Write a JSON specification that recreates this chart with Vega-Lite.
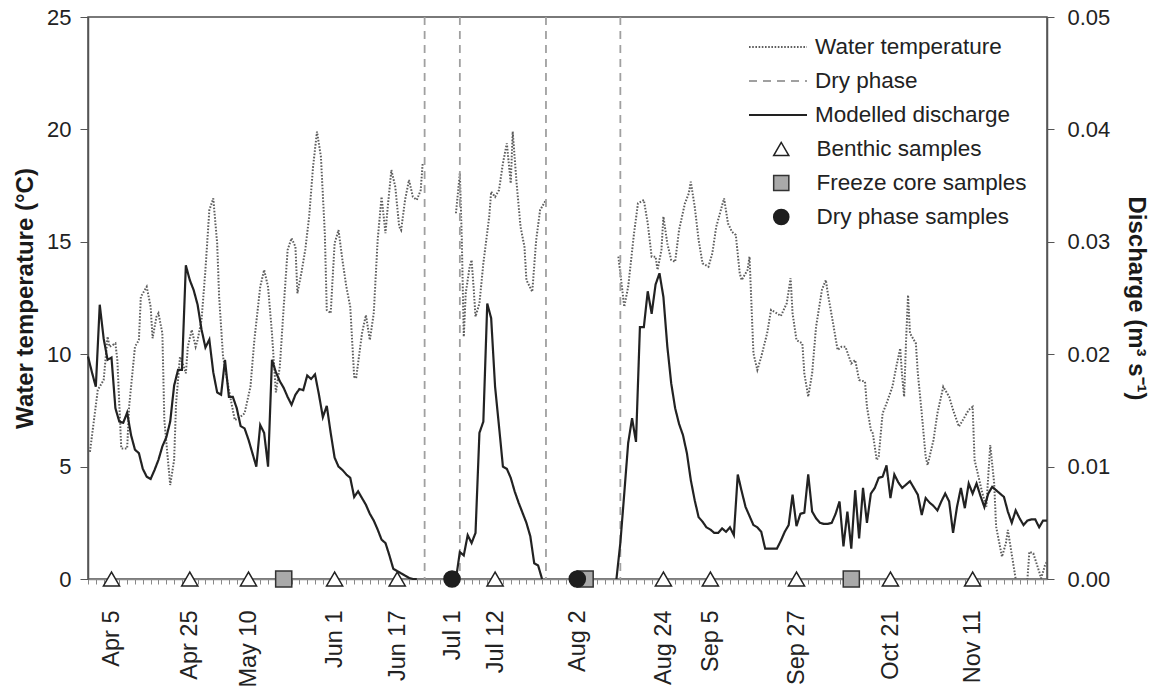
{
  "$schema": "https://vega.github.io/schema/vega-lite/v6.json",
  "width": 959,
  "height": 562,
  "autosize": {"type": "none"},
  "padding": {"left": 88, "top": 17, "right": 110, "bottom": 111},
  "background": "white",
  "config": {
    "font": "Liberation Sans",
    "view": {"stroke": "#4d4d4d", "strokeWidth": 1.5},
    "axis": {"grid": false, "labelFont": "Liberation Sans", "titleFont": "Liberation Sans", "labelFontSize": 22, "titleFontSize": 24, "labelColor": "#222222", "titleColor": "#1a1a1a", "titleFontWeight": "bold", "domainColor": "#555555", "tickColor": "#555555", "domainWidth": 1.5, "tickWidth": 1},
    "legend": {"labelFont": "Liberation Sans", "labelFontSize": 22.5, "labelColor": "#222222", "labelLimit": 400}
  },
  "datasets": {
    "temperature": [
      {"date":"2013-03-30T12:00Z","t":5.66,"seg":1,"series":"Water temperature"},
      {"date":"2013-04-01T12:00Z","t":8.41,"seg":1,"series":"Water temperature"},
      {"date":"2013-04-03","t":8.85,"seg":1,"series":"Water temperature"},
      {"date":"2013-04-04","t":10.78,"seg":1,"series":"Water temperature"},
      {"date":"2013-04-04T12:00Z","t":10.33,"seg":1,"series":"Water temperature"},
      {"date":"2013-04-06","t":10.48,"seg":1,"series":"Water temperature"},
      {"date":"2013-04-06T12:00Z","t":9.74,"seg":1,"series":"Water temperature"},
      {"date":"2013-04-07T12:00Z","t":5.81,"seg":1,"series":"Water temperature"},
      {"date":"2013-04-09","t":5.81,"seg":1,"series":"Water temperature"},
      {"date":"2013-04-09T12:00Z","t":7.66,"seg":1,"series":"Water temperature"},
      {"date":"2013-04-11","t":10.33,"seg":1,"series":"Water temperature"},
      {"date":"2013-04-12","t":10.63,"seg":1,"series":"Water temperature"},
      {"date":"2013-04-12T12:00Z","t":12.56,"seg":1,"series":"Water temperature"},
      {"date":"2013-04-14","t":13.0,"seg":1,"series":"Water temperature"},
      {"date":"2013-04-15","t":12.11,"seg":1,"series":"Water temperature"},
      {"date":"2013-04-15T12:00Z","t":10.71,"seg":1,"series":"Water temperature"},
      {"date":"2013-04-16T12:00Z","t":11.67,"seg":1,"series":"Water temperature"},
      {"date":"2013-04-17","t":11.82,"seg":1,"series":"Water temperature"},
      {"date":"2013-04-18","t":10.93,"seg":1,"series":"Water temperature"},
      {"date":"2013-04-18T12:00Z","t":7.07,"seg":1,"series":"Water temperature"},
      {"date":"2013-04-20","t":4.18,"seg":1,"series":"Water temperature"},
      {"date":"2013-04-21","t":5.29,"seg":1,"series":"Water temperature"},
      {"date":"2013-04-21T12:00Z","t":7.81,"seg":1,"series":"Water temperature"},
      {"date":"2013-04-22T12:00Z","t":9.89,"seg":1,"series":"Water temperature"},
      {"date":"2013-04-23T12:00Z","t":9.44,"seg":1,"series":"Water temperature"},
      {"date":"2013-04-24","t":9.15,"seg":1,"series":"Water temperature"},
      {"date":"2013-04-24T12:00Z","t":10.33,"seg":1,"series":"Water temperature"},
      {"date":"2013-04-25T12:00Z","t":11.08,"seg":1,"series":"Water temperature"},
      {"date":"2013-04-26T12:00Z","t":10.33,"seg":1,"series":"Water temperature"},
      {"date":"2013-04-27","t":10.63,"seg":1,"series":"Water temperature"},
      {"date":"2013-04-28","t":11.52,"seg":1,"series":"Water temperature"},
      {"date":"2013-04-29","t":13.75,"seg":1,"series":"Water temperature"},
      {"date":"2013-04-30","t":16.41,"seg":1,"series":"Water temperature"},
      {"date":"2013-05-01","t":16.93,"seg":1,"series":"Water temperature"},
      {"date":"2013-05-02","t":14.93,"seg":1,"series":"Water temperature"},
      {"date":"2013-05-02T12:00Z","t":12.56,"seg":1,"series":"Water temperature"},
      {"date":"2013-05-03T12:00Z","t":9.89,"seg":1,"series":"Water temperature"},
      {"date":"2013-05-05","t":8.41,"seg":1,"series":"Water temperature"},
      {"date":"2013-05-06T12:00Z","t":7.07,"seg":1,"series":"Water temperature"},
      {"date":"2013-05-08","t":7.22,"seg":1,"series":"Water temperature"},
      {"date":"2013-05-09","t":7.37,"seg":1,"series":"Water temperature"},
      {"date":"2013-05-10T12:00Z","t":8.55,"seg":1,"series":"Water temperature"},
      {"date":"2013-05-11T12:00Z","t":10.63,"seg":1,"series":"Water temperature"},
      {"date":"2013-05-13","t":13.0,"seg":1,"series":"Water temperature"},
      {"date":"2013-05-14","t":13.75,"seg":1,"series":"Water temperature"},
      {"date":"2013-05-15","t":13.0,"seg":1,"series":"Water temperature"},
      {"date":"2013-05-16","t":10.93,"seg":1,"series":"Water temperature"},
      {"date":"2013-05-17","t":8.3,"seg":1,"series":"Water temperature"},
      {"date":"2013-05-18","t":9.44,"seg":1,"series":"Water temperature"},
      {"date":"2013-05-19","t":12.11,"seg":1,"series":"Water temperature"},
      {"date":"2013-05-20","t":14.64,"seg":1,"series":"Water temperature"},
      {"date":"2013-05-21","t":15.16,"seg":1,"series":"Water temperature"},
      {"date":"2013-05-22","t":14.78,"seg":1,"series":"Water temperature"},
      {"date":"2013-05-22T12:00Z","t":12.71,"seg":1,"series":"Water temperature"},
      {"date":"2013-05-23T12:00Z","t":13.6,"seg":1,"series":"Water temperature"},
      {"date":"2013-05-24T12:00Z","t":14.64,"seg":1,"series":"Water temperature"},
      {"date":"2013-05-25T12:00Z","t":16.12,"seg":1,"series":"Water temperature"},
      {"date":"2013-05-26T12:00Z","t":18.34,"seg":1,"series":"Water temperature"},
      {"date":"2013-05-27T12:00Z","t":19.9,"seg":1,"series":"Water temperature"},
      {"date":"2013-05-28T12:00Z","t":18.79,"seg":1,"series":"Water temperature"},
      {"date":"2013-05-29T12:00Z","t":15.38,"seg":1,"series":"Water temperature"},
      {"date":"2013-05-30","t":11.97,"seg":1,"series":"Water temperature"},
      {"date":"2013-05-31","t":11.82,"seg":1,"series":"Water temperature"},
      {"date":"2013-06-01","t":14.93,"seg":1,"series":"Water temperature"},
      {"date":"2013-06-02","t":15.52,"seg":1,"series":"Water temperature"},
      {"date":"2013-06-03","t":14.19,"seg":1,"series":"Water temperature"},
      {"date":"2013-06-04","t":13.0,"seg":1,"series":"Water temperature"},
      {"date":"2013-06-05","t":12.11,"seg":1,"series":"Water temperature"},
      {"date":"2013-06-06","t":9.0,"seg":1,"series":"Water temperature"},
      {"date":"2013-06-06T12:00Z","t":8.93,"seg":1,"series":"Water temperature"},
      {"date":"2013-06-08","t":10.93,"seg":1,"series":"Water temperature"},
      {"date":"2013-06-09","t":11.74,"seg":1,"series":"Water temperature"},
      {"date":"2013-06-10","t":10.63,"seg":1,"series":"Water temperature"},
      {"date":"2013-06-11","t":11.82,"seg":1,"series":"Water temperature"},
      {"date":"2013-06-12","t":15.08,"seg":1,"series":"Water temperature"},
      {"date":"2013-06-13","t":17.0,"seg":1,"series":"Water temperature"},
      {"date":"2013-06-14","t":15.38,"seg":1,"series":"Water temperature"},
      {"date":"2013-06-14T12:00Z","t":16.41,"seg":1,"series":"Water temperature"},
      {"date":"2013-06-15T12:00Z","t":18.19,"seg":1,"series":"Water temperature"},
      {"date":"2013-06-16T12:00Z","t":17.45,"seg":1,"series":"Water temperature"},
      {"date":"2013-06-17T12:00Z","t":15.67,"seg":1,"series":"Water temperature"},
      {"date":"2013-06-18","t":15.52,"seg":1,"series":"Water temperature"},
      {"date":"2013-06-19","t":16.86,"seg":1,"series":"Water temperature"},
      {"date":"2013-06-20","t":17.75,"seg":1,"series":"Water temperature"},
      {"date":"2013-06-21","t":17.0,"seg":1,"series":"Water temperature"},
      {"date":"2013-06-22","t":16.86,"seg":1,"series":"Water temperature"},
      {"date":"2013-06-23","t":17.3,"seg":1,"series":"Water temperature"},
      {"date":"2013-06-23T12:00Z","t":18.49,"seg":1,"series":"Water temperature"},
      {"date":"2013-07-02","t":16.27,"seg":2,"series":"Water temperature"},
      {"date":"2013-07-03","t":18.05,"seg":2,"series":"Water temperature"},
      {"date":"2013-07-03T12:00Z","t":15.08,"seg":2,"series":"Water temperature"},
      {"date":"2013-07-04","t":10.78,"seg":2,"series":"Water temperature"},
      {"date":"2013-07-04T12:00Z","t":12.71,"seg":2,"series":"Water temperature"},
      {"date":"2013-07-05T12:00Z","t":13.89,"seg":2,"series":"Water temperature"},
      {"date":"2013-07-06","t":14.19,"seg":2,"series":"Water temperature"},
      {"date":"2013-07-06T12:00Z","t":13.0,"seg":2,"series":"Water temperature"},
      {"date":"2013-07-07","t":11.67,"seg":2,"series":"Water temperature"},
      {"date":"2013-07-08","t":12.26,"seg":2,"series":"Water temperature"},
      {"date":"2013-07-09","t":14.04,"seg":2,"series":"Water temperature"},
      {"date":"2013-07-10T12:00Z","t":16.12,"seg":2,"series":"Water temperature"},
      {"date":"2013-07-11","t":17.23,"seg":2,"series":"Water temperature"},
      {"date":"2013-07-12","t":17.0,"seg":2,"series":"Water temperature"},
      {"date":"2013-07-13","t":17.3,"seg":2,"series":"Water temperature"},
      {"date":"2013-07-14","t":18.49,"seg":2,"series":"Water temperature"},
      {"date":"2013-07-15","t":19.38,"seg":2,"series":"Water temperature"},
      {"date":"2013-07-16","t":17.6,"seg":2,"series":"Water temperature"},
      {"date":"2013-07-16T12:00Z","t":19.9,"seg":2,"series":"Water temperature"},
      {"date":"2013-07-17T12:00Z","t":17.6,"seg":2,"series":"Water temperature"},
      {"date":"2013-07-18T12:00Z","t":15.67,"seg":2,"series":"Water temperature"},
      {"date":"2013-07-19T12:00Z","t":14.78,"seg":2,"series":"Water temperature"},
      {"date":"2013-07-20","t":13.3,"seg":2,"series":"Water temperature"},
      {"date":"2013-07-21T12:00Z","t":12.78,"seg":2,"series":"Water temperature"},
      {"date":"2013-07-22T12:00Z","t":15.08,"seg":2,"series":"Water temperature"},
      {"date":"2013-07-23T12:00Z","t":16.41,"seg":2,"series":"Water temperature"},
      {"date":"2013-07-25","t":16.86,"seg":2,"series":"Water temperature"},
      {"date":"2013-08-12T12:00Z","t":14.34,"seg":3,"series":"Water temperature"},
      {"date":"2013-08-14","t":12.11,"seg":3,"series":"Water temperature"},
      {"date":"2013-08-15","t":13.0,"seg":3,"series":"Water temperature"},
      {"date":"2013-08-16T12:00Z","t":15.38,"seg":3,"series":"Water temperature"},
      {"date":"2013-08-17T12:00Z","t":16.71,"seg":3,"series":"Water temperature"},
      {"date":"2013-08-19","t":16.86,"seg":3,"series":"Water temperature"},
      {"date":"2013-08-20","t":15.82,"seg":3,"series":"Water temperature"},
      {"date":"2013-08-21","t":14.34,"seg":3,"series":"Water temperature"},
      {"date":"2013-08-22","t":14.34,"seg":3,"series":"Water temperature"},
      {"date":"2013-08-22T12:00Z","t":13.75,"seg":3,"series":"Water temperature"},
      {"date":"2013-08-23T12:00Z","t":14.64,"seg":3,"series":"Water temperature"},
      {"date":"2013-08-24","t":16.12,"seg":3,"series":"Water temperature"},
      {"date":"2013-08-25","t":14.93,"seg":3,"series":"Water temperature"},
      {"date":"2013-08-26","t":14.19,"seg":3,"series":"Water temperature"},
      {"date":"2013-08-27","t":14.11,"seg":3,"series":"Water temperature"},
      {"date":"2013-08-28","t":15.52,"seg":3,"series":"Water temperature"},
      {"date":"2013-08-29T12:00Z","t":16.71,"seg":3,"series":"Water temperature"},
      {"date":"2013-08-30T12:00Z","t":17.16,"seg":3,"series":"Water temperature"},
      {"date":"2013-08-31","t":17.67,"seg":3,"series":"Water temperature"},
      {"date":"2013-09-01","t":16.56,"seg":3,"series":"Water temperature"},
      {"date":"2013-09-02","t":15.08,"seg":3,"series":"Water temperature"},
      {"date":"2013-09-03","t":14.04,"seg":3,"series":"Water temperature"},
      {"date":"2013-09-04T12:00Z","t":13.89,"seg":3,"series":"Water temperature"},
      {"date":"2013-09-05T12:00Z","t":14.49,"seg":3,"series":"Water temperature"},
      {"date":"2013-09-06T12:00Z","t":15.67,"seg":3,"series":"Water temperature"},
      {"date":"2013-09-08T12:00Z","t":16.93,"seg":3,"series":"Water temperature"},
      {"date":"2013-09-09T12:00Z","t":15.82,"seg":3,"series":"Water temperature"},
      {"date":"2013-09-10T12:00Z","t":15.45,"seg":3,"series":"Water temperature"},
      {"date":"2013-09-11T12:00Z","t":15.3,"seg":3,"series":"Water temperature"},
      {"date":"2013-09-12T12:00Z","t":13.6,"seg":3,"series":"Water temperature"},
      {"date":"2013-09-13","t":13.3,"seg":3,"series":"Water temperature"},
      {"date":"2013-09-14T12:00Z","t":13.75,"seg":3,"series":"Water temperature"},
      {"date":"2013-09-15","t":14.34,"seg":3,"series":"Water temperature"},
      {"date":"2013-09-16","t":10.04,"seg":3,"series":"Water temperature"},
      {"date":"2013-09-17","t":9.3,"seg":3,"series":"Water temperature"},
      {"date":"2013-09-18","t":9.89,"seg":3,"series":"Water temperature"},
      {"date":"2013-09-19T12:00Z","t":10.93,"seg":3,"series":"Water temperature"},
      {"date":"2013-09-20T12:00Z","t":11.97,"seg":3,"series":"Water temperature"},
      {"date":"2013-09-22","t":11.82,"seg":3,"series":"Water temperature"},
      {"date":"2013-09-23","t":11.7,"seg":3,"series":"Water temperature"},
      {"date":"2013-09-24T12:00Z","t":12.26,"seg":3,"series":"Water temperature"},
      {"date":"2013-09-25T12:00Z","t":13.38,"seg":3,"series":"Water temperature"},
      {"date":"2013-09-26","t":11.82,"seg":3,"series":"Water temperature"},
      {"date":"2013-09-27","t":10.63,"seg":3,"series":"Water temperature"},
      {"date":"2013-09-28T12:00Z","t":10.48,"seg":3,"series":"Water temperature"},
      {"date":"2013-09-29","t":9.15,"seg":3,"series":"Water temperature"},
      {"date":"2013-09-30","t":8.11,"seg":3,"series":"Water temperature"},
      {"date":"2013-10-01","t":9.15,"seg":3,"series":"Water temperature"},
      {"date":"2013-10-02","t":11.22,"seg":3,"series":"Water temperature"},
      {"date":"2013-10-03T12:00Z","t":12.86,"seg":3,"series":"Water temperature"},
      {"date":"2013-10-04T12:00Z","t":13.3,"seg":3,"series":"Water temperature"},
      {"date":"2013-10-05","t":12.71,"seg":3,"series":"Water temperature"},
      {"date":"2013-10-06T12:00Z","t":11.22,"seg":3,"series":"Water temperature"},
      {"date":"2013-10-07T12:00Z","t":10.19,"seg":3,"series":"Water temperature"},
      {"date":"2013-10-08T12:00Z","t":10.33,"seg":3,"series":"Water temperature"},
      {"date":"2013-10-09T12:00Z","t":10.33,"seg":3,"series":"Water temperature"},
      {"date":"2013-10-11","t":9.59,"seg":3,"series":"Water temperature"},
      {"date":"2013-10-12","t":9.74,"seg":3,"series":"Water temperature"},
      {"date":"2013-10-13","t":8.85,"seg":3,"series":"Water temperature"},
      {"date":"2013-10-14T12:00Z","t":8.78,"seg":3,"series":"Water temperature"},
      {"date":"2013-10-15","t":7.66,"seg":3,"series":"Water temperature"},
      {"date":"2013-10-16","t":6.63,"seg":3,"series":"Water temperature"},
      {"date":"2013-10-16T12:00Z","t":6.48,"seg":3,"series":"Water temperature"},
      {"date":"2013-10-17T12:00Z","t":5.29,"seg":3,"series":"Water temperature"},
      {"date":"2013-10-18","t":5.44,"seg":3,"series":"Water temperature"},
      {"date":"2013-10-19","t":7.37,"seg":3,"series":"Water temperature"},
      {"date":"2013-10-20","t":7.81,"seg":3,"series":"Water temperature"},
      {"date":"2013-10-21T12:00Z","t":8.55,"seg":3,"series":"Water temperature"},
      {"date":"2013-10-22T12:00Z","t":9.44,"seg":3,"series":"Water temperature"},
      {"date":"2013-10-23T12:00Z","t":10.26,"seg":3,"series":"Water temperature"},
      {"date":"2013-10-24","t":9.0,"seg":3,"series":"Water temperature"},
      {"date":"2013-10-24T12:00Z","t":8.11,"seg":3,"series":"Water temperature"},
      {"date":"2013-10-25","t":10.63,"seg":3,"series":"Water temperature"},
      {"date":"2013-10-25T12:00Z","t":12.63,"seg":3,"series":"Water temperature"},
      {"date":"2013-10-26","t":10.93,"seg":3,"series":"Water temperature"},
      {"date":"2013-10-27T12:00Z","t":10.48,"seg":3,"series":"Water temperature"},
      {"date":"2013-10-28","t":9.15,"seg":3,"series":"Water temperature"},
      {"date":"2013-10-29","t":7.37,"seg":3,"series":"Water temperature"},
      {"date":"2013-10-30","t":5.44,"seg":3,"series":"Water temperature"},
      {"date":"2013-10-30T12:00Z","t":5.07,"seg":3,"series":"Water temperature"},
      {"date":"2013-11-01","t":6.18,"seg":3,"series":"Water temperature"},
      {"date":"2013-11-02","t":7.37,"seg":3,"series":"Water temperature"},
      {"date":"2013-11-03T12:00Z","t":8.55,"seg":3,"series":"Water temperature"},
      {"date":"2013-11-05","t":8.11,"seg":3,"series":"Water temperature"},
      {"date":"2013-11-06","t":7.52,"seg":3,"series":"Water temperature"},
      {"date":"2013-11-07T12:00Z","t":6.78,"seg":3,"series":"Water temperature"},
      {"date":"2013-11-08T12:00Z","t":7.07,"seg":3,"series":"Water temperature"},
      {"date":"2013-11-10","t":7.52,"seg":3,"series":"Water temperature"},
      {"date":"2013-11-11","t":7.66,"seg":3,"series":"Water temperature"},
      {"date":"2013-11-11T12:00Z","t":5.29,"seg":3,"series":"Water temperature"},
      {"date":"2013-11-12T12:00Z","t":4.55,"seg":3,"series":"Water temperature"},
      {"date":"2013-11-13T12:00Z","t":3.81,"seg":3,"series":"Water temperature"},
      {"date":"2013-11-14T12:00Z","t":3.22,"seg":3,"series":"Water temperature"},
      {"date":"2013-11-15T12:00Z","t":5.96,"seg":3,"series":"Water temperature"},
      {"date":"2013-11-16T12:00Z","t":4.26,"seg":3,"series":"Water temperature"},
      {"date":"2013-11-17","t":2.33,"seg":3,"series":"Water temperature"},
      {"date":"2013-11-18T12:00Z","t":0.99,"seg":3,"series":"Water temperature"},
      {"date":"2013-11-19T12:00Z","t":1.59,"seg":3,"series":"Water temperature"},
      {"date":"2013-11-20","t":2.18,"seg":3,"series":"Water temperature"},
      {"date":"2013-11-22","t":0,"seg":3,"series":"Water temperature"},
      {"date":"2013-11-23","t":-1,"seg":3,"series":"Water temperature"},
      {"date":"2013-11-24","t":-1,"seg":3,"series":"Water temperature"},
      {"date":"2013-11-25","t":0,"seg":3,"series":"Water temperature"},
      {"date":"2013-11-25T12:00Z","t":1.21,"seg":3,"series":"Water temperature"},
      {"date":"2013-11-26T12:00Z","t":1.14,"seg":3,"series":"Water temperature"},
      {"date":"2013-11-28","t":0.33,"seg":3,"series":"Water temperature"},
      {"date":"2013-11-28T12:00Z","t":0.03,"seg":3,"series":"Water temperature"},
      {"date":"2013-11-29T12:00Z","t":0.62,"seg":3,"series":"Water temperature"},
      {"date":"2013-11-30","t":0.77,"seg":3,"series":"Water temperature"}
    ],
    "discharge": [
      {"date":"2013-03-30","q":0.0198,"seg":1,"series":"Modelled discharge"},
      {"date":"2013-03-31","q":0.0184,"seg":1,"series":"Modelled discharge"},
      {"date":"2013-04-01","q":0.0171,"seg":1,"series":"Modelled discharge"},
      {"date":"2013-04-02","q":0.0244,"seg":1,"series":"Modelled discharge"},
      {"date":"2013-04-03","q":0.0214,"seg":1,"series":"Modelled discharge"},
      {"date":"2013-04-04","q":0.0195,"seg":1,"series":"Modelled discharge"},
      {"date":"2013-04-05","q":0.0197,"seg":1,"series":"Modelled discharge"},
      {"date":"2013-04-06","q":0.0152,"seg":1,"series":"Modelled discharge"},
      {"date":"2013-04-07","q":0.0140,"seg":1,"series":"Modelled discharge"},
      {"date":"2013-04-08","q":0.0139,"seg":1,"series":"Modelled discharge"},
      {"date":"2013-04-09","q":0.0148,"seg":1,"series":"Modelled discharge"},
      {"date":"2013-04-10","q":0.0128,"seg":1,"series":"Modelled discharge"},
      {"date":"2013-04-11","q":0.0115,"seg":1,"series":"Modelled discharge"},
      {"date":"2013-04-12","q":0.0112,"seg":1,"series":"Modelled discharge"},
      {"date":"2013-04-13","q":0.0098,"seg":1,"series":"Modelled discharge"},
      {"date":"2013-04-14","q":0.0091,"seg":1,"series":"Modelled discharge"},
      {"date":"2013-04-15","q":0.0089,"seg":1,"series":"Modelled discharge"},
      {"date":"2013-04-16","q":0.0097,"seg":1,"series":"Modelled discharge"},
      {"date":"2013-04-17","q":0.0106,"seg":1,"series":"Modelled discharge"},
      {"date":"2013-04-18","q":0.0118,"seg":1,"series":"Modelled discharge"},
      {"date":"2013-04-19","q":0.0126,"seg":1,"series":"Modelled discharge"},
      {"date":"2013-04-20","q":0.0140,"seg":1,"series":"Modelled discharge"},
      {"date":"2013-04-21","q":0.0172,"seg":1,"series":"Modelled discharge"},
      {"date":"2013-04-22","q":0.0186,"seg":1,"series":"Modelled discharge"},
      {"date":"2013-04-23","q":0.0186,"seg":1,"series":"Modelled discharge"},
      {"date":"2013-04-24","q":0.0279,"seg":1,"series":"Modelled discharge"},
      {"date":"2013-04-25","q":0.0266,"seg":1,"series":"Modelled discharge"},
      {"date":"2013-04-26","q":0.0257,"seg":1,"series":"Modelled discharge"},
      {"date":"2013-04-27","q":0.0244,"seg":1,"series":"Modelled discharge"},
      {"date":"2013-04-28","q":0.0222,"seg":1,"series":"Modelled discharge"},
      {"date":"2013-04-29","q":0.0206,"seg":1,"series":"Modelled discharge"},
      {"date":"2013-04-30","q":0.0213,"seg":1,"series":"Modelled discharge"},
      {"date":"2013-05-01","q":0.0184,"seg":1,"series":"Modelled discharge"},
      {"date":"2013-05-02","q":0.0166,"seg":1,"series":"Modelled discharge"},
      {"date":"2013-05-03","q":0.0164,"seg":1,"series":"Modelled discharge"},
      {"date":"2013-05-04","q":0.0195,"seg":1,"series":"Modelled discharge"},
      {"date":"2013-05-05","q":0.0162,"seg":1,"series":"Modelled discharge"},
      {"date":"2013-05-06","q":0.0162,"seg":1,"series":"Modelled discharge"},
      {"date":"2013-05-07","q":0.0152,"seg":1,"series":"Modelled discharge"},
      {"date":"2013-05-08","q":0.0136,"seg":1,"series":"Modelled discharge"},
      {"date":"2013-05-09","q":0.0134,"seg":1,"series":"Modelled discharge"},
      {"date":"2013-05-10","q":0.0124,"seg":1,"series":"Modelled discharge"},
      {"date":"2013-05-11","q":0.0112,"seg":1,"series":"Modelled discharge"},
      {"date":"2013-05-12","q":0.0100,"seg":1,"series":"Modelled discharge"},
      {"date":"2013-05-13","q":0.0137,"seg":1,"series":"Modelled discharge"},
      {"date":"2013-05-14","q":0.0130,"seg":1,"series":"Modelled discharge"},
      {"date":"2013-05-15","q":0.0100,"seg":1,"series":"Modelled discharge"},
      {"date":"2013-05-16","q":0.0195,"seg":1,"series":"Modelled discharge"},
      {"date":"2013-05-17","q":0.0184,"seg":1,"series":"Modelled discharge"},
      {"date":"2013-05-18","q":0.0176,"seg":1,"series":"Modelled discharge"},
      {"date":"2013-05-19","q":0.0170,"seg":1,"series":"Modelled discharge"},
      {"date":"2013-05-20","q":0.0162,"seg":1,"series":"Modelled discharge"},
      {"date":"2013-05-21","q":0.0155,"seg":1,"series":"Modelled discharge"},
      {"date":"2013-05-22","q":0.0164,"seg":1,"series":"Modelled discharge"},
      {"date":"2013-05-23","q":0.0169,"seg":1,"series":"Modelled discharge"},
      {"date":"2013-05-24","q":0.0168,"seg":1,"series":"Modelled discharge"},
      {"date":"2013-05-25","q":0.0181,"seg":1,"series":"Modelled discharge"},
      {"date":"2013-05-26","q":0.0178,"seg":1,"series":"Modelled discharge"},
      {"date":"2013-05-27","q":0.0182,"seg":1,"series":"Modelled discharge"},
      {"date":"2013-05-28","q":0.0164,"seg":1,"series":"Modelled discharge"},
      {"date":"2013-05-29","q":0.0144,"seg":1,"series":"Modelled discharge"},
      {"date":"2013-05-30","q":0.0154,"seg":1,"series":"Modelled discharge"},
      {"date":"2013-05-31","q":0.0130,"seg":1,"series":"Modelled discharge"},
      {"date":"2013-06-01","q":0.0108,"seg":1,"series":"Modelled discharge"},
      {"date":"2013-06-02","q":0.0100,"seg":1,"series":"Modelled discharge"},
      {"date":"2013-06-03","q":0.0097,"seg":1,"series":"Modelled discharge"},
      {"date":"2013-06-04","q":0.0093,"seg":1,"series":"Modelled discharge"},
      {"date":"2013-06-05","q":0.0090,"seg":1,"series":"Modelled discharge"},
      {"date":"2013-06-06","q":0.0073,"seg":1,"series":"Modelled discharge"},
      {"date":"2013-06-07","q":0.0078,"seg":1,"series":"Modelled discharge"},
      {"date":"2013-06-08","q":0.0072,"seg":1,"series":"Modelled discharge"},
      {"date":"2013-06-09","q":0.0066,"seg":1,"series":"Modelled discharge"},
      {"date":"2013-06-10","q":0.0058,"seg":1,"series":"Modelled discharge"},
      {"date":"2013-06-11","q":0.0052,"seg":1,"series":"Modelled discharge"},
      {"date":"2013-06-12","q":0.0044,"seg":1,"series":"Modelled discharge"},
      {"date":"2013-06-13","q":0.0035,"seg":1,"series":"Modelled discharge"},
      {"date":"2013-06-14","q":0.0032,"seg":1,"series":"Modelled discharge"},
      {"date":"2013-06-15","q":0.0021,"seg":1,"series":"Modelled discharge"},
      {"date":"2013-06-16","q":0.0009,"seg":1,"series":"Modelled discharge"},
      {"date":"2013-06-17","q":0.0007,"seg":1,"series":"Modelled discharge"},
      {"date":"2013-06-18","q":0.0005,"seg":1,"series":"Modelled discharge"},
      {"date":"2013-06-19","q":0.0003,"seg":1,"series":"Modelled discharge"},
      {"date":"2013-06-20","q":0.0001,"seg":1,"series":"Modelled discharge"},
      {"date":"2013-06-21","q":0.0,"seg":1,"series":"Modelled discharge"},
      {"date":"2013-06-22","q":0.0,"seg":1,"series":"Modelled discharge"},
      {"date":"2013-07-02","q":0.0,"seg":2,"series":"Modelled discharge"},
      {"date":"2013-07-03","q":0.0024,"seg":2,"series":"Modelled discharge"},
      {"date":"2013-07-04","q":0.0021,"seg":2,"series":"Modelled discharge"},
      {"date":"2013-07-05","q":0.0039,"seg":2,"series":"Modelled discharge"},
      {"date":"2013-07-06","q":0.0032,"seg":2,"series":"Modelled discharge"},
      {"date":"2013-07-07","q":0.0041,"seg":2,"series":"Modelled discharge"},
      {"date":"2013-07-08","q":0.0130,"seg":2,"series":"Modelled discharge"},
      {"date":"2013-07-09","q":0.0140,"seg":2,"series":"Modelled discharge"},
      {"date":"2013-07-10","q":0.0245,"seg":2,"series":"Modelled discharge"},
      {"date":"2013-07-11","q":0.0232,"seg":2,"series":"Modelled discharge"},
      {"date":"2013-07-12","q":0.0171,"seg":2,"series":"Modelled discharge"},
      {"date":"2013-07-13","q":0.0136,"seg":2,"series":"Modelled discharge"},
      {"date":"2013-07-14","q":0.0100,"seg":2,"series":"Modelled discharge"},
      {"date":"2013-07-15","q":0.0098,"seg":2,"series":"Modelled discharge"},
      {"date":"2013-07-16","q":0.0090,"seg":2,"series":"Modelled discharge"},
      {"date":"2013-07-17","q":0.0078,"seg":2,"series":"Modelled discharge"},
      {"date":"2013-07-18","q":0.0068,"seg":2,"series":"Modelled discharge"},
      {"date":"2013-07-19","q":0.0059,"seg":2,"series":"Modelled discharge"},
      {"date":"2013-07-20","q":0.0050,"seg":2,"series":"Modelled discharge"},
      {"date":"2013-07-21","q":0.0038,"seg":2,"series":"Modelled discharge"},
      {"date":"2013-07-22","q":0.0014,"seg":2,"series":"Modelled discharge"},
      {"date":"2013-07-23","q":0.0012,"seg":2,"series":"Modelled discharge"},
      {"date":"2013-07-24","q":0.0,"seg":2,"series":"Modelled discharge"},
      {"date":"2013-08-12","q":0.0,"seg":3,"series":"Modelled discharge"},
      {"date":"2013-08-13","q":0.0032,"seg":3,"series":"Modelled discharge"},
      {"date":"2013-08-14","q":0.0076,"seg":3,"series":"Modelled discharge"},
      {"date":"2013-08-15","q":0.0121,"seg":3,"series":"Modelled discharge"},
      {"date":"2013-08-16","q":0.0143,"seg":3,"series":"Modelled discharge"},
      {"date":"2013-08-17","q":0.0122,"seg":3,"series":"Modelled discharge"},
      {"date":"2013-08-18","q":0.0224,"seg":3,"series":"Modelled discharge"},
      {"date":"2013-08-19","q":0.0224,"seg":3,"series":"Modelled discharge"},
      {"date":"2013-08-20","q":0.0256,"seg":3,"series":"Modelled discharge"},
      {"date":"2013-08-21","q":0.0236,"seg":3,"series":"Modelled discharge"},
      {"date":"2013-08-22","q":0.0262,"seg":3,"series":"Modelled discharge"},
      {"date":"2013-08-23","q":0.0272,"seg":3,"series":"Modelled discharge"},
      {"date":"2013-08-24","q":0.0251,"seg":3,"series":"Modelled discharge"},
      {"date":"2013-08-25","q":0.0207,"seg":3,"series":"Modelled discharge"},
      {"date":"2013-08-26","q":0.0174,"seg":3,"series":"Modelled discharge"},
      {"date":"2013-08-27","q":0.0152,"seg":3,"series":"Modelled discharge"},
      {"date":"2013-08-28","q":0.0138,"seg":3,"series":"Modelled discharge"},
      {"date":"2013-08-29","q":0.0128,"seg":3,"series":"Modelled discharge"},
      {"date":"2013-08-30","q":0.0112,"seg":3,"series":"Modelled discharge"},
      {"date":"2013-08-31","q":0.0088,"seg":3,"series":"Modelled discharge"},
      {"date":"2013-09-01","q":0.0070,"seg":3,"series":"Modelled discharge"},
      {"date":"2013-09-02","q":0.0055,"seg":3,"series":"Modelled discharge"},
      {"date":"2013-09-03","q":0.0051,"seg":3,"series":"Modelled discharge"},
      {"date":"2013-09-04","q":0.0046,"seg":3,"series":"Modelled discharge"},
      {"date":"2013-09-05","q":0.0044,"seg":3,"series":"Modelled discharge"},
      {"date":"2013-09-06","q":0.0041,"seg":3,"series":"Modelled discharge"},
      {"date":"2013-09-07","q":0.0041,"seg":3,"series":"Modelled discharge"},
      {"date":"2013-09-08","q":0.0045,"seg":3,"series":"Modelled discharge"},
      {"date":"2013-09-09","q":0.0042,"seg":3,"series":"Modelled discharge"},
      {"date":"2013-09-10","q":0.0046,"seg":3,"series":"Modelled discharge"},
      {"date":"2013-09-11","q":0.0039,"seg":3,"series":"Modelled discharge"},
      {"date":"2013-09-12","q":0.0093,"seg":3,"series":"Modelled discharge"},
      {"date":"2013-09-13","q":0.0078,"seg":3,"series":"Modelled discharge"},
      {"date":"2013-09-14","q":0.0064,"seg":3,"series":"Modelled discharge"},
      {"date":"2013-09-15","q":0.0056,"seg":3,"series":"Modelled discharge"},
      {"date":"2013-09-16","q":0.0048,"seg":3,"series":"Modelled discharge"},
      {"date":"2013-09-17","q":0.0046,"seg":3,"series":"Modelled discharge"},
      {"date":"2013-09-18","q":0.0042,"seg":3,"series":"Modelled discharge"},
      {"date":"2013-09-19","q":0.0027,"seg":3,"series":"Modelled discharge"},
      {"date":"2013-09-20","q":0.0027,"seg":3,"series":"Modelled discharge"},
      {"date":"2013-09-21","q":0.0027,"seg":3,"series":"Modelled discharge"},
      {"date":"2013-09-22","q":0.0027,"seg":3,"series":"Modelled discharge"},
      {"date":"2013-09-23","q":0.0034,"seg":3,"series":"Modelled discharge"},
      {"date":"2013-09-24","q":0.0042,"seg":3,"series":"Modelled discharge"},
      {"date":"2013-09-25","q":0.0048,"seg":3,"series":"Modelled discharge"},
      {"date":"2013-09-26","q":0.0075,"seg":3,"series":"Modelled discharge"},
      {"date":"2013-09-27","q":0.0047,"seg":3,"series":"Modelled discharge"},
      {"date":"2013-09-28","q":0.0058,"seg":3,"series":"Modelled discharge"},
      {"date":"2013-09-29","q":0.0059,"seg":3,"series":"Modelled discharge"},
      {"date":"2013-09-30","q":0.0093,"seg":3,"series":"Modelled discharge"},
      {"date":"2013-10-01","q":0.0060,"seg":3,"series":"Modelled discharge"},
      {"date":"2013-10-02","q":0.0054,"seg":3,"series":"Modelled discharge"},
      {"date":"2013-10-03","q":0.0050,"seg":3,"series":"Modelled discharge"},
      {"date":"2013-10-04","q":0.0049,"seg":3,"series":"Modelled discharge"},
      {"date":"2013-10-05","q":0.0049,"seg":3,"series":"Modelled discharge"},
      {"date":"2013-10-06","q":0.0050,"seg":3,"series":"Modelled discharge"},
      {"date":"2013-10-07","q":0.0058,"seg":3,"series":"Modelled discharge"},
      {"date":"2013-10-08","q":0.0069,"seg":3,"series":"Modelled discharge"},
      {"date":"2013-10-09","q":0.0029,"seg":3,"series":"Modelled discharge"},
      {"date":"2013-10-10","q":0.0060,"seg":3,"series":"Modelled discharge"},
      {"date":"2013-10-11","q":0.0027,"seg":3,"series":"Modelled discharge"},
      {"date":"2013-10-12","q":0.0079,"seg":3,"series":"Modelled discharge"},
      {"date":"2013-10-13","q":0.0036,"seg":3,"series":"Modelled discharge"},
      {"date":"2013-10-14","q":0.0081,"seg":3,"series":"Modelled discharge"},
      {"date":"2013-10-15","q":0.0050,"seg":3,"series":"Modelled discharge"},
      {"date":"2013-10-16","q":0.0076,"seg":3,"series":"Modelled discharge"},
      {"date":"2013-10-17","q":0.0081,"seg":3,"series":"Modelled discharge"},
      {"date":"2013-10-18","q":0.0090,"seg":3,"series":"Modelled discharge"},
      {"date":"2013-10-19","q":0.0091,"seg":3,"series":"Modelled discharge"},
      {"date":"2013-10-20","q":0.0101,"seg":3,"series":"Modelled discharge"},
      {"date":"2013-10-21","q":0.0072,"seg":3,"series":"Modelled discharge"},
      {"date":"2013-10-22","q":0.0093,"seg":3,"series":"Modelled discharge"},
      {"date":"2013-10-23","q":0.0086,"seg":3,"series":"Modelled discharge"},
      {"date":"2013-10-24","q":0.0081,"seg":3,"series":"Modelled discharge"},
      {"date":"2013-10-25","q":0.0084,"seg":3,"series":"Modelled discharge"},
      {"date":"2013-10-26","q":0.0087,"seg":3,"series":"Modelled discharge"},
      {"date":"2013-10-27","q":0.0081,"seg":3,"series":"Modelled discharge"},
      {"date":"2013-10-28","q":0.0075,"seg":3,"series":"Modelled discharge"},
      {"date":"2013-10-29","q":0.0057,"seg":3,"series":"Modelled discharge"},
      {"date":"2013-10-30","q":0.0072,"seg":3,"series":"Modelled discharge"},
      {"date":"2013-10-31","q":0.0068,"seg":3,"series":"Modelled discharge"},
      {"date":"2013-11-01","q":0.0065,"seg":3,"series":"Modelled discharge"},
      {"date":"2013-11-02","q":0.0061,"seg":3,"series":"Modelled discharge"},
      {"date":"2013-11-03","q":0.0069,"seg":3,"series":"Modelled discharge"},
      {"date":"2013-11-04","q":0.0076,"seg":3,"series":"Modelled discharge"},
      {"date":"2013-11-05","q":0.0069,"seg":3,"series":"Modelled discharge"},
      {"date":"2013-11-06","q":0.0041,"seg":3,"series":"Modelled discharge"},
      {"date":"2013-11-07","q":0.0064,"seg":3,"series":"Modelled discharge"},
      {"date":"2013-11-08","q":0.0081,"seg":3,"series":"Modelled discharge"},
      {"date":"2013-11-09","q":0.0063,"seg":3,"series":"Modelled discharge"},
      {"date":"2013-11-10","q":0.0085,"seg":3,"series":"Modelled discharge"},
      {"date":"2013-11-11","q":0.0076,"seg":3,"series":"Modelled discharge"},
      {"date":"2013-11-12","q":0.0085,"seg":3,"series":"Modelled discharge"},
      {"date":"2013-11-13","q":0.0074,"seg":3,"series":"Modelled discharge"},
      {"date":"2013-11-14","q":0.0064,"seg":3,"series":"Modelled discharge"},
      {"date":"2013-11-15","q":0.0076,"seg":3,"series":"Modelled discharge"},
      {"date":"2013-11-16","q":0.0082,"seg":3,"series":"Modelled discharge"},
      {"date":"2013-11-17","q":0.0079,"seg":3,"series":"Modelled discharge"},
      {"date":"2013-11-18","q":0.0076,"seg":3,"series":"Modelled discharge"},
      {"date":"2013-11-19","q":0.0073,"seg":3,"series":"Modelled discharge"},
      {"date":"2013-11-20","q":0.0060,"seg":3,"series":"Modelled discharge"},
      {"date":"2013-11-21","q":0.0050,"seg":3,"series":"Modelled discharge"},
      {"date":"2013-11-22","q":0.0061,"seg":3,"series":"Modelled discharge"},
      {"date":"2013-11-23","q":0.0054,"seg":3,"series":"Modelled discharge"},
      {"date":"2013-11-24","q":0.0048,"seg":3,"series":"Modelled discharge"},
      {"date":"2013-11-25","q":0.0052,"seg":3,"series":"Modelled discharge"},
      {"date":"2013-11-26","q":0.0053,"seg":3,"series":"Modelled discharge"},
      {"date":"2013-11-27","q":0.0053,"seg":3,"series":"Modelled discharge"},
      {"date":"2013-11-28","q":0.0046,"seg":3,"series":"Modelled discharge"},
      {"date":"2013-11-29","q":0.0052,"seg":3,"series":"Modelled discharge"},
      {"date":"2013-11-30","q":0.0052,"seg":3,"series":"Modelled discharge"}
    ],
    "dryphase": [
      {"date":"2013-06-24","series":"Dry phase"},
      {"date":"2013-07-03","series":"Dry phase"},
      {"date":"2013-07-25","series":"Dry phase"},
      {"date":"2013-08-13","series":"Dry phase"}
    ],
    "samples": [
      {"date":"2013-04-05","sample":"Benthic samples"},
      {"date":"2013-04-25","sample":"Benthic samples"},
      {"date":"2013-05-10","sample":"Benthic samples"},
      {"date":"2013-06-01","sample":"Benthic samples"},
      {"date":"2013-06-17","sample":"Benthic samples"},
      {"date":"2013-07-12","sample":"Benthic samples"},
      {"date":"2013-08-24","sample":"Benthic samples"},
      {"date":"2013-09-05","sample":"Benthic samples"},
      {"date":"2013-09-27","sample":"Benthic samples"},
      {"date":"2013-10-21","sample":"Benthic samples"},
      {"date":"2013-11-11","sample":"Benthic samples"},
      {"date":"2013-05-19","sample":"Freeze core samples"},
      {"date":"2013-08-04","sample":"Freeze core samples"},
      {"date":"2013-10-11","sample":"Freeze core samples"},
      {"date":"2013-07-01","sample":"Dry phase samples"},
      {"date":"2013-08-02","sample":"Dry phase samples"}
    ]
  },
  "encoding": {
    "x": {
      "field": "date", "type": "temporal",
      "scale": {"type": "utc", "domain": [{"year":2013,"month":3,"date":30,"utc":true}, {"year":2013,"month":11,"date":30,"utc":true}]},
      "axis": {
        "title": null, "labelAngle": -90, "labelPadding": 26, "tickSize": 5, "labelFontSize": 23.5,
        "tickColor": "#888888", "domainColor": "#888888", "labelOverlap": false, "labelFlush": false, "labelBound": false,
        "values": [
          {"year":2013,"month":3,"date":30,"utc":true},
          {"year":2013,"month":4,"date":1,"utc":true},{"year":2013,"month":4,"date":3,"utc":true},{"year":2013,"month":4,"date":5,"utc":true},{"year":2013,"month":4,"date":7,"utc":true},{"year":2013,"month":4,"date":9,"utc":true},{"year":2013,"month":4,"date":11,"utc":true},{"year":2013,"month":4,"date":13,"utc":true},{"year":2013,"month":4,"date":15,"utc":true},{"year":2013,"month":4,"date":17,"utc":true},{"year":2013,"month":4,"date":19,"utc":true},{"year":2013,"month":4,"date":21,"utc":true},{"year":2013,"month":4,"date":23,"utc":true},{"year":2013,"month":4,"date":25,"utc":true},{"year":2013,"month":4,"date":27,"utc":true},{"year":2013,"month":4,"date":29,"utc":true},
          {"year":2013,"month":5,"date":1,"utc":true},{"year":2013,"month":5,"date":3,"utc":true},{"year":2013,"month":5,"date":5,"utc":true},{"year":2013,"month":5,"date":7,"utc":true},{"year":2013,"month":5,"date":9,"utc":true},{"year":2013,"month":5,"date":10,"utc":true},{"year":2013,"month":5,"date":11,"utc":true},{"year":2013,"month":5,"date":13,"utc":true},{"year":2013,"month":5,"date":15,"utc":true},{"year":2013,"month":5,"date":17,"utc":true},{"year":2013,"month":5,"date":19,"utc":true},{"year":2013,"month":5,"date":21,"utc":true},{"year":2013,"month":5,"date":23,"utc":true},{"year":2013,"month":5,"date":25,"utc":true},{"year":2013,"month":5,"date":27,"utc":true},{"year":2013,"month":5,"date":29,"utc":true},{"year":2013,"month":5,"date":31,"utc":true},
          {"year":2013,"month":6,"date":1,"utc":true},{"year":2013,"month":6,"date":2,"utc":true},{"year":2013,"month":6,"date":4,"utc":true},{"year":2013,"month":6,"date":6,"utc":true},{"year":2013,"month":6,"date":8,"utc":true},{"year":2013,"month":6,"date":10,"utc":true},{"year":2013,"month":6,"date":12,"utc":true},{"year":2013,"month":6,"date":14,"utc":true},{"year":2013,"month":6,"date":16,"utc":true},{"year":2013,"month":6,"date":17,"utc":true},{"year":2013,"month":6,"date":18,"utc":true},{"year":2013,"month":6,"date":20,"utc":true},{"year":2013,"month":6,"date":22,"utc":true},{"year":2013,"month":6,"date":24,"utc":true},{"year":2013,"month":6,"date":26,"utc":true},{"year":2013,"month":6,"date":28,"utc":true},{"year":2013,"month":6,"date":30,"utc":true},
          {"year":2013,"month":7,"date":1,"utc":true},{"year":2013,"month":7,"date":2,"utc":true},{"year":2013,"month":7,"date":4,"utc":true},{"year":2013,"month":7,"date":6,"utc":true},{"year":2013,"month":7,"date":8,"utc":true},{"year":2013,"month":7,"date":10,"utc":true},{"year":2013,"month":7,"date":12,"utc":true},{"year":2013,"month":7,"date":14,"utc":true},{"year":2013,"month":7,"date":16,"utc":true},{"year":2013,"month":7,"date":18,"utc":true},{"year":2013,"month":7,"date":20,"utc":true},{"year":2013,"month":7,"date":22,"utc":true},{"year":2013,"month":7,"date":24,"utc":true},{"year":2013,"month":7,"date":26,"utc":true},{"year":2013,"month":7,"date":28,"utc":true},{"year":2013,"month":7,"date":30,"utc":true},
          {"year":2013,"month":8,"date":1,"utc":true},{"year":2013,"month":8,"date":2,"utc":true},{"year":2013,"month":8,"date":3,"utc":true},{"year":2013,"month":8,"date":5,"utc":true},{"year":2013,"month":8,"date":7,"utc":true},{"year":2013,"month":8,"date":9,"utc":true},{"year":2013,"month":8,"date":11,"utc":true},{"year":2013,"month":8,"date":13,"utc":true},{"year":2013,"month":8,"date":15,"utc":true},{"year":2013,"month":8,"date":17,"utc":true},{"year":2013,"month":8,"date":19,"utc":true},{"year":2013,"month":8,"date":21,"utc":true},{"year":2013,"month":8,"date":23,"utc":true},{"year":2013,"month":8,"date":24,"utc":true},{"year":2013,"month":8,"date":25,"utc":true},{"year":2013,"month":8,"date":27,"utc":true},{"year":2013,"month":8,"date":29,"utc":true},{"year":2013,"month":8,"date":31,"utc":true},
          {"year":2013,"month":9,"date":2,"utc":true},{"year":2013,"month":9,"date":4,"utc":true},{"year":2013,"month":9,"date":5,"utc":true},{"year":2013,"month":9,"date":6,"utc":true},{"year":2013,"month":9,"date":8,"utc":true},{"year":2013,"month":9,"date":10,"utc":true},{"year":2013,"month":9,"date":12,"utc":true},{"year":2013,"month":9,"date":14,"utc":true},{"year":2013,"month":9,"date":16,"utc":true},{"year":2013,"month":9,"date":18,"utc":true},{"year":2013,"month":9,"date":20,"utc":true},{"year":2013,"month":9,"date":22,"utc":true},{"year":2013,"month":9,"date":24,"utc":true},{"year":2013,"month":9,"date":26,"utc":true},{"year":2013,"month":9,"date":27,"utc":true},{"year":2013,"month":9,"date":28,"utc":true},{"year":2013,"month":9,"date":30,"utc":true},
          {"year":2013,"month":10,"date":2,"utc":true},{"year":2013,"month":10,"date":4,"utc":true},{"year":2013,"month":10,"date":6,"utc":true},{"year":2013,"month":10,"date":8,"utc":true},{"year":2013,"month":10,"date":10,"utc":true},{"year":2013,"month":10,"date":12,"utc":true},{"year":2013,"month":10,"date":14,"utc":true},{"year":2013,"month":10,"date":16,"utc":true},{"year":2013,"month":10,"date":18,"utc":true},{"year":2013,"month":10,"date":20,"utc":true},{"year":2013,"month":10,"date":21,"utc":true},{"year":2013,"month":10,"date":22,"utc":true},{"year":2013,"month":10,"date":24,"utc":true},{"year":2013,"month":10,"date":26,"utc":true},{"year":2013,"month":10,"date":28,"utc":true},{"year":2013,"month":10,"date":30,"utc":true},
          {"year":2013,"month":11,"date":1,"utc":true},{"year":2013,"month":11,"date":3,"utc":true},{"year":2013,"month":11,"date":5,"utc":true},{"year":2013,"month":11,"date":7,"utc":true},{"year":2013,"month":11,"date":9,"utc":true},{"year":2013,"month":11,"date":11,"utc":true},{"year":2013,"month":11,"date":13,"utc":true},{"year":2013,"month":11,"date":15,"utc":true},{"year":2013,"month":11,"date":17,"utc":true},{"year":2013,"month":11,"date":19,"utc":true},{"year":2013,"month":11,"date":21,"utc":true},{"year":2013,"month":11,"date":23,"utc":true},{"year":2013,"month":11,"date":25,"utc":true},{"year":2013,"month":11,"date":27,"utc":true},{"year":2013,"month":11,"date":29,"utc":true}
        ],
        "labelExpr": "indexof(['Apr 5','Apr 25','May 10','Jun 1','Jun 17','Jul 1','Jul 12','Aug 2','Aug 24','Sep 5','Sep 27','Oct 21','Nov 11'], utcFormat(datum.value, '%b %-d')) >= 0 ? utcFormat(datum.value, '%b %-d') : ''"
      }
    }
  },
  "layer": [
    {
      "data": {"name": "temperature"},
      "mark": {"type": "line", "clip": true, "strokeWidth": 2},
      "encoding": {
        "y": {
          "field": "t", "type": "quantitative",
          "scale": {"domain": [0, 25], "nice": false, "zero": false},
          "axis": {"orient": "left", "title": "Water temperature (°C)", "values": [0, 5, 10, 15, 20, 25], "tickSize": 8, "labelPadding": 9, "titlePadding": 9}
        },
        "detail": {"field": "seg", "type": "nominal"},
        "color": {
          "field": "series", "type": "nominal",
          "scale": {"domain": ["Water temperature", "Dry phase", "Modelled discharge"], "range": ["#5e5e5e", "#a0a0a0", "#222222"]},
          "legend": {"title": null, "orient": "none", "legendX": 660, "legendY": 15, "symbolType": "stroke", "symbolSize": 3364, "symbolStrokeWidth": 2, "clipHeight": 30, "rowPadding": 4, "labelOffset": 7, "labelFontSize": 22.5}
        },
        "strokeDash": {
          "field": "series", "type": "nominal",
          "scale": {"domain": ["Water temperature", "Dry phase", "Modelled discharge"], "range": [[1.6, 1.6], [8, 6], [1, 0]]},
          "legend": {"title": null, "orient": "none", "legendX": 660, "legendY": 15, "symbolType": "stroke", "symbolSize": 3364, "symbolStrokeWidth": 2, "clipHeight": 30, "rowPadding": 4, "labelOffset": 7, "labelFontSize": 22.5}
        }
      }
    },
    {
      "data": {"name": "dryphase"},
      "mark": {"type": "rule", "strokeWidth": 1.8},
      "encoding": {
        "color": {"field": "series", "type": "nominal"},
        "strokeDash": {"field": "series", "type": "nominal"}
      }
    },
    {
      "data": {"name": "discharge"},
      "mark": {"type": "line", "strokeWidth": 2.2},
      "encoding": {
        "y": {
          "field": "q", "type": "quantitative",
          "scale": {"domain": [0, 0.05], "nice": false, "zero": false},
          "axis": {"orient": "right", "title": "Discharge (m³ s⁻¹)", "values": [0, 0.01, 0.02, 0.03, 0.04, 0.05], "format": ".2f", "tickSize": 7, "labelPadding": 13, "titlePadding": 14}
        },
        "detail": {"field": "seg", "type": "nominal"},
        "color": {"field": "series", "type": "nominal"},
        "strokeDash": {"field": "series", "type": "nominal"}
      }
    },
    {
      "data": {"name": "samples"},
      "mark": {"type": "point", "filled": true, "size": 260, "strokeWidth": 1.5, "opacity": 1},
      "encoding": {
        "y": {"datum": 0, "type": "quantitative", "scale": {"domain": [0, 25], "nice": false, "zero": false}, "axis": null},
        "shape": {
          "field": "sample", "type": "nominal",
          "scale": {"domain": ["Benthic samples", "Freeze core samples", "Dry phase samples"], "range": ["triangle-up", "square", "circle"]},
          "legend": {"title": null, "orient": "none", "legendX": 682, "legendY": 117, "symbolSize": 230, "symbolStrokeWidth": 1.5, "symbolOpacity": 1, "clipHeight": 30, "rowPadding": 4, "labelOffset": 24, "labelFontSize": 22.5}
        },
        "fill": {
          "field": "sample", "type": "nominal",
          "scale": {"domain": ["Benthic samples", "Freeze core samples", "Dry phase samples"], "range": ["#ffffff", "#a9a9a9", "#1e1e1e"]},
          "legend": {"title": null, "orient": "none", "legendX": 682, "legendY": 117, "symbolSize": 230, "symbolStrokeWidth": 1.5, "symbolOpacity": 1, "clipHeight": 30, "rowPadding": 4, "labelOffset": 24, "labelFontSize": 22.5}
        },
        "stroke": {
          "field": "sample", "type": "nominal",
          "scale": {"domain": ["Benthic samples", "Freeze core samples", "Dry phase samples"], "range": ["#222222", "#333333", "#1e1e1e"]},
          "legend": {"title": null, "orient": "none", "legendX": 682, "legendY": 117, "symbolSize": 230, "symbolStrokeWidth": 1.5, "symbolOpacity": 1, "clipHeight": 30, "rowPadding": 4, "labelOffset": 24, "labelFontSize": 22.5}
        }
      }
    }
  ],
  "resolve": {"scale": {"y": "independent"}}
}
